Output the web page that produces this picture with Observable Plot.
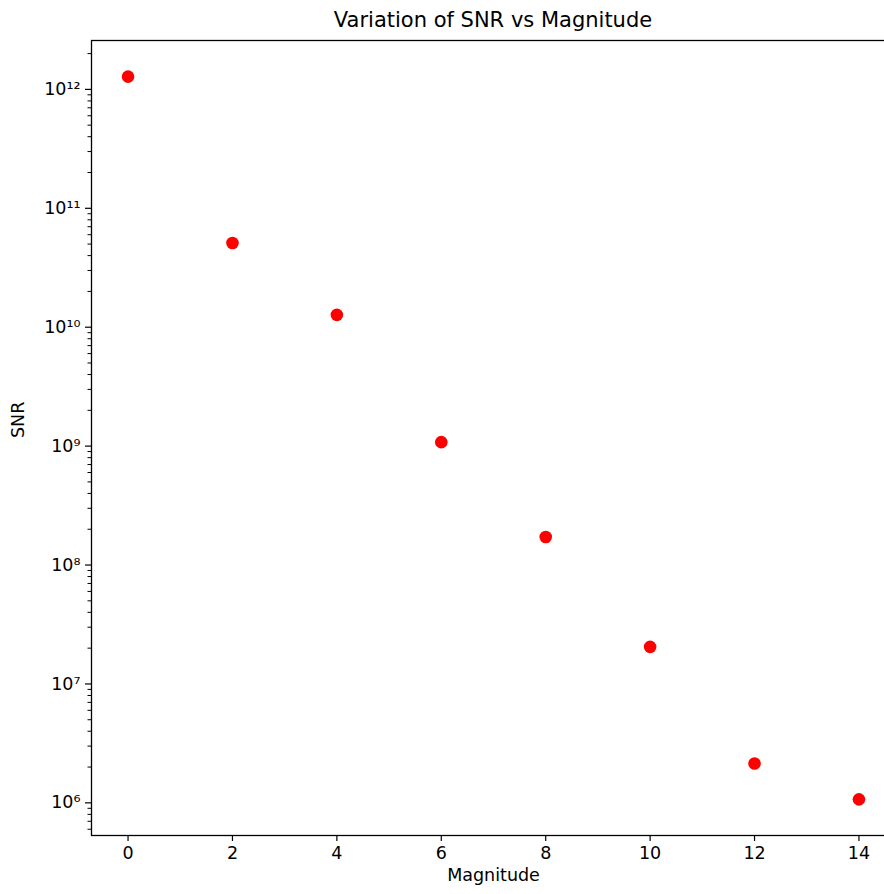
<!DOCTYPE html>
<html>
<head>
<meta charset="utf-8">
<script src="https://cdn.jsdelivr.net/npm/d3@7"></script>
<script src="https://cdn.jsdelivr.net/npm/@observablehq/plot@0.6"></script>
<style>
  html, body { margin: 0; padding: 0; background: #fff; overflow: hidden; }
  #title {
    height: 34px; line-height: 40px; width: 804px; padding-left: 91px;
    text-align: center; font-family: "DejaVu Sans", sans-serif; font-size: 21px; color: #000;
    white-space: nowrap;
  }
  #chart { width: 900px; }
  svg { display: block; max-width: none !important; }
</style>
</head>
<body>
<div id="title">Variation of SNR vs Magnitude</div>
<div id="chart"></div>
<script>
// Signal-to-noise ratio for stars of each apparent magnitude
const magnitudes = [0, 2, 4, 6, 8, 10, 12, 14];
const snr = [1.28e12, 5.1e10, 1.27e10, 1.08e9, 1.72e8, 2.05e7, 2.14e6, 1.07e6];

const xTicks = [0, 2, 4, 6, 8, 10, 12, 14];
const yTicks = [1e6, 1e7, 1e8, 1e9, 1e10, 1e11, 1e12];

const data = magnitudes.map((m, i) => ({magnitude: m, snr: snr[i]}));

// Autoscale with a 5% pad on each side (log space for y)
const xMin = d3.min(magnitudes), xMax = d3.max(magnitudes);
const xPad = (xMax - xMin) * 0.05;
const l0 = Math.log10(d3.min(snr)), l1 = Math.log10(d3.max(snr));
const lPad = (l1 - l0) * 0.05;
const yDomain = [10 ** (l0 - lPad), 10 ** (l1 + lPad)];

// Minor log ticks: 2..9 × 10^k inside the domain
const minorTicks = [];
for (let k = 5; k <= 12; k++) {
  for (let m = 2; m <= 9; m++) {
    const v = m * 10 ** k;
    if (v >= yDomain[0] && v <= yDomain[1]) minorTicks.push(v);
  }
}

const sup = {"0":"⁰","1":"¹","2":"²","3":"³","4":"⁴","5":"⁵","6":"⁶","7":"⁷","8":"⁸","9":"⁹","-":"⁻"};
const powerFormat = (v) => "10" + String(Math.round(Math.log10(v))).split("").map(c => sup[c]).join("");

const chart = Plot.plot({
  width: 900,
  height: 860,
  marginLeft: 91,
  marginRight: 5,
  marginTop: 6,
  marginBottom: 59,
  style: {fontFamily: "DejaVu Sans, sans-serif", fontSize: "17.5px", color: "#000", background: "#fff", maxWidth: "none"},
  x: {domain: [xMin - xPad, xMax + xPad]},
  y: {type: "log", domain: yDomain},
  marks: [
    Plot.frame({stroke: "#000", strokeWidth: 1.3}),
    Plot.axisX(xTicks, {tickSize: 6, tickPadding: 5, tickFormat: d => String(d), label: null, strokeWidth: 1.2}),
    Plot.axisY(yTicks, {tickSize: 6, tickPadding: 5, tickFormat: powerFormat, label: null, strokeWidth: 1.2}),
    Plot.axisY(minorTicks, {tickSize: 3.5, tickFormat: () => "", label: null, strokeWidth: 1}),
    Plot.dot(data, {x: "magnitude", y: "snr", r: 6.3, fill: "#ff0000", stroke: null}),
    Plot.text(["SNR"], {frameAnchor: "left", dx: -73, rotate: -90, fontSize: 17.5, fill: "#000"}),
    Plot.text(["Magnitude"], {frameAnchor: "bottom", dy: 45, fontSize: 17.5, fill: "#000"})
  ]
});
document.getElementById("chart").appendChild(chart);
</script>
</body>
</html>
